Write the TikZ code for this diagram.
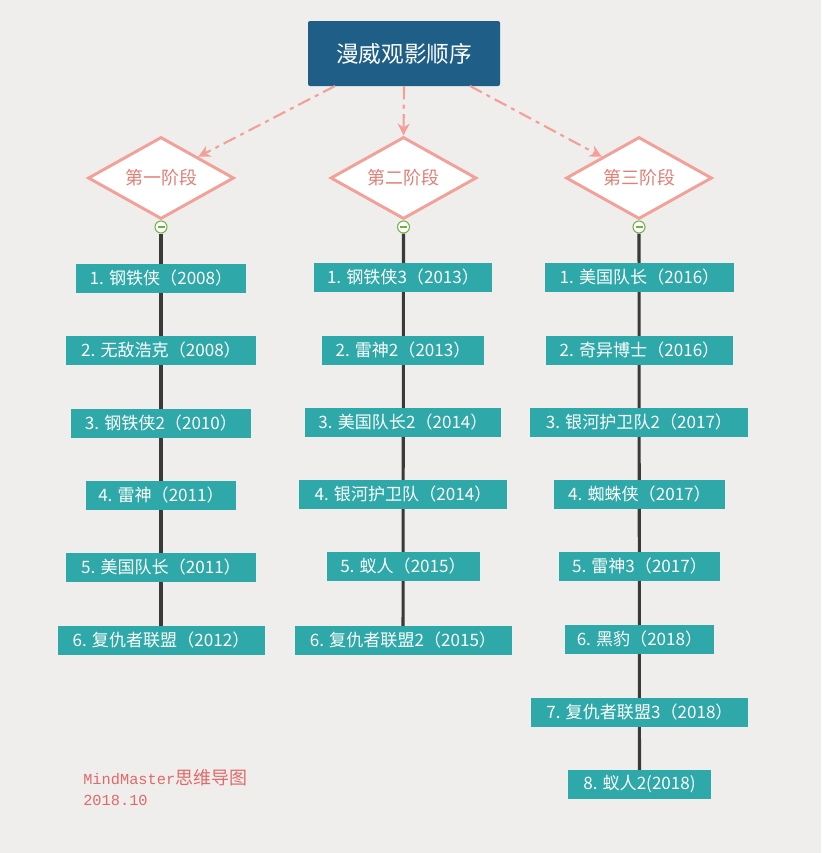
\documentclass[tikz,border=0pt]{standalone}
\usepackage{fontspec}
\setmainfont{Noto Sans CJK SC}
\newfontfamily\monofont{Liberation Mono}
\usetikzlibrary{shapes.geometric,arrows.meta,backgrounds,calc}
\definecolor{bgc}{HTML}{EFEEEC}
\definecolor{titlec}{HTML}{1F5F87}
\definecolor{boxc}{HTML}{2EA8A8}
\definecolor{salmon}{HTML}{F2A098}
\definecolor{salmontxt}{HTML}{E27F76}
\definecolor{linec}{HTML}{3A3A3A}
\definecolor{greenc}{HTML}{6DB33F}
\definecolor{footc}{HTML}{E06A6A}
\def\u{0.75pt}
\tikzset{
  titlebox/.style={fill=titlec, text=white, rounded corners=1.5pt, minimum width=192*\u, minimum height=65*\u, font=\fontsize{17}{20}\selectfont, inner sep=0},
  stage/.style={diamond, draw=salmon, line width=2.2pt, fill=white, minimum width=146*\u, minimum height=82*\u, inner sep=0, aspect=1.78, text=salmontxt, font=\fontsize{13.5}{16}\selectfont},
  movie/.style={fill=boxc, text=white, minimum height=29*\u, inner sep=0, font=\fontsize{12.8}{15}\selectfont},
  fold/.style={circle, draw=greenc, line width=0.8pt, fill=white, minimum size=12*\u, inner sep=0},
  arr/.style={draw=salmon, line width=1.6pt, dash pattern=on 10pt off 4pt on 3pt off 4pt, -{Stealth[length=9pt,width=9pt]}},
  stem/.style={draw=linec, line width=2.3pt},
}
\begin{document}
\begin{tikzpicture}[x=0.75pt,y=-0.75pt]
\useasboundingbox (0,0) rectangle (821,853);
\node[titlebox] (T) at (404,53.5) {漫威观影顺序};
\node[stage] (D1) at (161,178) {第一阶段};
\node[stage] (D2) at (403.5,178) {第二阶段};
\node[stage] (D3) at (639,178) {第三阶段};
\coordinate (s1) at (335,86);
\coordinate (s2) at (404,86);
\coordinate (s3) at (470,86);
\draw[arr] (s1) -- (D1.north east);
\draw[arr] (s2) -- (D2.north);
\draw[arr] (s3) -- (D3.north west);
% column 1
\node[movie, minimum width=170*\u] (a1) at (161,278.5) {1. 钢铁侠（2008）};
\node[movie, minimum width=190*\u] (a2) at (161,350.5) {2. 无敌浩克（2008）};
\node[movie, minimum width=180*\u] (a3) at (161,423) {3. 钢铁侠2（2010）};
\node[movie, minimum width=150*\u] (a4) at (161,495.5) {4. 雷神（2011）};
\node[movie, minimum width=190*\u] (a5) at (161,567.5) {5. 美国队长（2011）};
\node[movie, minimum width=207*\u] (a6) at (161,640.5) {6. 复仇者联盟（2012）};
% column 2
\node[movie, minimum width=178*\u] (b1) at (403,277.5) {1. 钢铁侠3（2013）};
\node[movie, minimum width=162*\u] (b2) at (403,350.5) {2. 雷神2（2013）};
\node[movie, minimum width=196*\u] (b3) at (403,422.5) {3. 美国队长2（2014）};
\node[movie, minimum width=208*\u] (b4) at (403,494.5) {4. 银河护卫队（2014）};
\node[movie, minimum width=153*\u] (b5) at (403,566.5) {5. 蚁人（2015）};
\node[movie, minimum width=217*\u] (b6) at (403,640) {6. 复仇者联盟2（2015）};
% column 3
\node[movie, minimum width=189*\u] (c1) at (639.5,277.5) {1. 美国队长（2016）};
\node[movie, minimum width=187*\u] (c2) at (639.5,350) {2. 奇异博士（2016）};
\node[movie, minimum width=218*\u] (c3) at (639,422) {3. 银河护卫队2（2017）};
\node[movie, minimum width=171*\u] (c4) at (639.5,494.5) {4. 蜘蛛侠（2017）};
\node[movie, minimum width=161*\u] (c5) at (639.5,566.5) {5. 雷神3（2017）};
\node[movie, minimum width=149*\u] (c6) at (639.5,639) {6. 黑豹（2018）};
\node[movie, minimum width=217*\u] (c7) at (639.5,712) {7. 复仇者联盟3（2018）};
\node[movie, minimum width=143*\u] (c8) at (639.5,784.5) {8. 蚁人2(2018)};
% fold markers
\node[fold] (C1) at (161,227) {};
\node[fold] (C2) at (403.5,227) {};
\node[fold] (C3) at (639,227) {};
\foreach \c in {C1,C2,C3} {
  \draw[greenc, line width=0.8pt] ([xshift=-3.5*\u]\c.center) -- ([xshift=3.5*\u]\c.center);
}
\begin{scope}[on background layer]
  \fill[bgc] (0,0) rectangle (821,853);
  \draw[stem] (C1.south) -- (a6.center);
  \draw[stem] (C2.south) -- (b6.center);
  \draw[stem] (C3.south) -- (c8.center);
\end{scope}
\node[anchor=west, text=footc, font=\fontsize{13.5}{16}\selectfont, inner sep=0] (f1) at (83,778) {{\monofont\fontsize{11.5}{14}\selectfont MindMaster}思维导图};
\node[anchor=west, text=footc, font=\fontsize{11.5}{14}\selectfont\monofont, inner sep=0] (f2) at (83,800) {2018.10};
\end{tikzpicture}
\end{document}
